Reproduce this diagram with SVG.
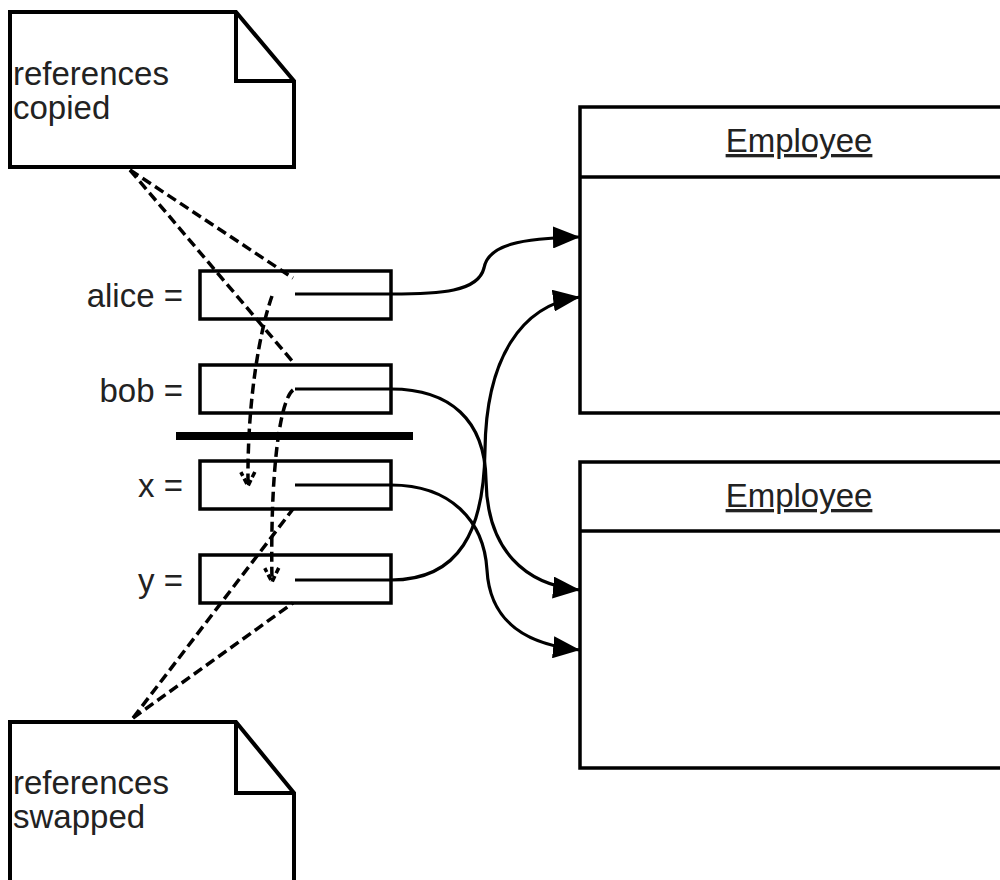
<svg xmlns="http://www.w3.org/2000/svg" width="1000" height="880" viewBox="0 0 1000 880">
<style>
  .box{fill:#fff;stroke:#000;stroke-width:3.5}
  .note{fill:#fff;stroke:#000;stroke-width:4}
  .fold{fill:none;stroke:#000;stroke-width:4}
  .lbl{font-family:"Liberation Sans",Arial,sans-serif;font-size:33px;fill:#222}
  .cls{font-family:"Liberation Sans",Arial,sans-serif;font-size:33px;fill:#222;text-decoration:underline}
  .ref{fill:none;stroke:#000;stroke-width:3.2}
  .dash{fill:none;stroke:#000;stroke-width:3.5;stroke-dasharray:10 5}
</style>
<defs>
  <marker id="tri" markerUnits="userSpaceOnUse" markerWidth="28" markerHeight="22" refX="27" refY="11" orient="auto">
    <path d="M0,0 L27,11 L0,22 Z" fill="#000"/>
  </marker>
  <marker id="vee" markerUnits="userSpaceOnUse" markerWidth="18" markerHeight="18" refX="15" refY="9" orient="auto">
    <path d="M1,2 L15,9 L1,16" fill="none" stroke="#000" stroke-width="3.5" stroke-dasharray="6 3"/>
  </marker>
</defs>
<rect width="1000" height="880" fill="#fff"/>

<g id="note-copied">
  <path class="note" d="M10,12 L236,12 L294,81 L294,167 L10,167 Z"/>
  <path class="fold" d="M236,12 L236,81 L294,81"/>
  <text class="lbl" x="13" y="85">references</text>
  <text class="lbl" x="13" y="119">copied</text>
</g>

<g id="note-swapped">
  <path class="note" d="M10,722 L236,722 L294,793 L294,884 L10,884 Z"/>
  <path class="fold" d="M236,722 L236,793 L294,793"/>
  <text class="lbl" x="13" y="794">references</text>
  <text class="lbl" x="13" y="828">swapped</text>
</g>

<g id="emp1">
  <rect class="box" x="580" y="107" width="440" height="306"/>
  <line x1="580" y1="177" x2="1020" y2="177" stroke="#000" stroke-width="3.5"/>
  <text class="cls" x="799" y="152" text-anchor="middle">Employee</text>
</g>

<g id="emp2">
  <rect class="box" x="580" y="462" width="440" height="306"/>
  <line x1="580" y1="531" x2="1020" y2="531" stroke="#000" stroke-width="3.5"/>
  <text class="cls" x="799" y="507" text-anchor="middle">Employee</text>
</g>

<g id="var-alice">
  <text class="lbl" x="183" y="307" text-anchor="end">alice =</text>
  <rect class="box" x="200" y="271" width="191" height="48"/>
</g>
<g id="var-bob">
  <text class="lbl" x="183" y="402" text-anchor="end">bob =</text>
  <rect class="box" x="200" y="365" width="191" height="48"/>
</g>
<g id="separator">
  <line x1="176" y1="436" x2="413" y2="436" stroke="#000" stroke-width="8"/>
</g>
<g id="var-x">
  <text class="lbl" x="183" y="497" text-anchor="end">x =</text>
  <rect class="box" x="200" y="461" width="191" height="48"/>
</g>
<g id="var-y">
  <text class="lbl" x="183" y="592" text-anchor="end">y =</text>
  <rect class="box" x="200" y="555" width="191" height="48"/>
</g>

<g id="connectors">
  <path class="ref" d="M295,294 L391,294 C440,294 478,292 484,268 C488,245 520,238 580,237" marker-end="url(#tri)"/>
  <path class="ref" d="M295,389 L391,389 C450,389 485,420 486,480 C487,550 525,585 580,590" marker-end="url(#tri)"/>
  <path class="ref" d="M295,485 L391,485 C450,485 484,520 487,570 C490,625 530,645 580,650" marker-end="url(#tri)"/>
  <path class="ref" d="M295,580 L391,580 C460,580 484,530 485,450 C486,360 520,305 580,297" marker-end="url(#tri)"/>

  <path class="dash" d="M130,170 L293,278"/>
  <path class="dash" d="M130,170 L293,362"/>
  <path class="dash" d="M133,718 L293,509"/>
  <path class="dash" d="M133,718 L293,603"/>

  <path class="dash" d="M272,296 C260,330 247,400 248,486" marker-end="url(#vee)"/>
  <path class="dash" d="M293,390 C280,400 270,470 272,582" marker-end="url(#vee)"/>
</g>
</svg>
